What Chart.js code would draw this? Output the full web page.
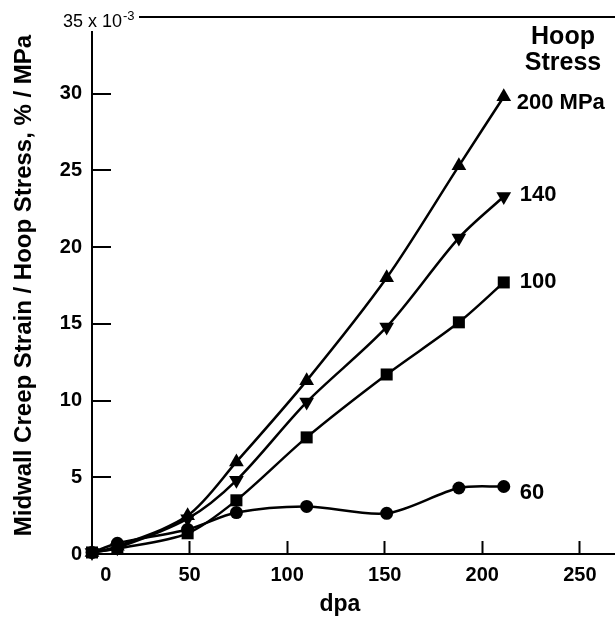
<!DOCTYPE html>
<html><head><meta charset="utf-8">
<script src="https://cdn.jsdelivr.net/npm/chart.js@4/dist/chart.umd.min.js"></script>
<style>html,body{margin:0;padding:0;background:#fff;}#wrap{width:615px;height:618px;}</style>
</head><body><div id="wrap"><canvas id="c" width="615" height="618"></canvas></div>
<script>
// ---- data ----
const dpa = [0, 13, 49, 74, 110, 151, 188, 211];
const strain200 = [0.1, 0.5, 2.5, 6.0, 11.3, 18.0, 25.3, 29.8];
const strain140 = [0.1, 0.4, 2.3, 4.8, 9.9, 14.8, 20.6, 23.3];
const strain100 = [0.1, 0.35, 1.35, 3.5, 7.6, 11.7, 15.1, 17.7];
const strain60  = [0.1, 0.7, 1.6, 2.7, 3.1, 2.65, 4.3, 4.4];
const seriesLabels = ['200 MPa', '140', '100', '60'];
const xTickValues = [0, 50, 100, 150, 200, 250];
const yTickValues = [0, 5, 10, 15, 20, 25, 30, 35];
const legendTitle = ['Hoop', 'Stress'];
const xTitle = 'dpa';
const yTitle = 'Midwall Creep Strain / Hoop Stress, % / MPa';
const yUnitMain = '35 x 10';
const yUnitExp = '-3';

const FONT = '"Liberation Sans", Arial, Helvetica, sans-serif';
const toXY = (ys) => dpa.map((x, i) => ({x: x, y: ys[i]}));

const styles = [
  {pointStyle: 'triangle', rotation: 0, radius: 8.5, dx: 13, dy: 6},
  {pointStyle: 'triangle', rotation: 180, radius: 8.5, dx: 16, dy: -2},
  {pointStyle: 'rect', rotation: 0, radius: 8.5, dx: 16, dy: 0},
  {pointStyle: 'circle', rotation: 0, radius: 6.5, dx: 16, dy: 6}
];
const allSeries = [strain200, strain140, strain100, strain60];

const datasets = allSeries.map((s, i) => ({
  label: seriesLabels[i],
  data: toXY(s),
  borderColor: '#000',
  backgroundColor: '#000',
  borderWidth: 2.5,
  tension: 0.3,
  pointStyle: styles[i].pointStyle,
  pointRotation: styles[i].rotation,
  pointRadius: styles[i].radius,
  pointBorderWidth: 0,
  pointBackgroundColor: '#000',
  clip: false
}));

const annot = {
  id: 'annot',
  afterDraw(chart) {
    const ctx = chart.ctx;
    const xs = chart.scales.x, ys = chart.scales.y;
    ctx.save();
    const topPx = ys.getPixelForValue(35);
    // unit label at top of y axis
    ctx.fillStyle = '#fff';
    ctx.fillRect(55, topPx - 14, 84, 28);
    ctx.fillStyle = '#000';
    ctx.textAlign = 'left';
    ctx.textBaseline = 'alphabetic';
    ctx.font = '18px ' + FONT;
    const base = topPx + 10;
    ctx.fillText(yUnitMain, 63, base);
    const w = ctx.measureText(yUnitMain).width;
    ctx.font = '13px ' + FONT;
    ctx.fillText(yUnitExp, 63 + w + 1, base - 7);
    // legend title
    ctx.font = 'bold 25px ' + FONT;
    ctx.textAlign = 'center';
    ctx.textBaseline = 'middle';
    ctx.fillText(legendTitle[0], 563, 37);
    ctx.fillText(legendTitle[1], 563, 63);
    // series labels next to last points
    ctx.font = 'bold 22px ' + FONT;
    ctx.textAlign = 'left';
    allSeries.forEach((s, i) => {
      const n = s.length - 1;
      const px = xs.getPixelForValue(dpa[n]);
      const py = ys.getPixelForValue(s[n]);
      ctx.fillText(seriesLabels[i], px + styles[i].dx, py + styles[i].dy);
    });
    // x axis title
    ctx.font = 'bold 23px ' + FONT;
    ctx.textAlign = 'center';
    ctx.fillText(xTitle, xs.getPixelForValue(127), 605);
    ctx.restore();
  }
};

new Chart(document.getElementById('c'), {
  type: 'line',
  data: {datasets: datasets},
  options: {
    responsive: false,
    animation: false,
    events: [],
    layout: {autoPadding: false, padding: {top: 17, right: 0, left: 0, bottom: 0}},
    plugins: {legend: {display: false}, tooltip: {enabled: false}},
    scales: {
      x: {
        type: 'linear',
        min: 0, max: 268,
        afterFit: (s) => { s.height = 64; s.paddingLeft = 0; s.paddingRight = 0; s.paddingTop = 0; s.paddingBottom = 0; },
        afterBuildTicks: (s) => { s.ticks = xTickValues.map(v => ({value: v})); },
        ticks: {
          padding: 22,
          color: '#000',
          font: {family: FONT, size: 20, weight: 'bold'},
          maxRotation: 0,
          autoSkip: false,
          callback: (v) => v === 0 ? '     0' : String(v)
        },
        grid: {
          drawOnChartArea: false,
          drawTicks: true,
          tickLength: -13,
          tickWidth: 2,
          tickColor: (c) => (c.tick && c.tick.value === 0) ? 'rgba(0,0,0,0)' : '#000'
        },
        border: {display: true, color: '#000', width: 2}
      },
      y: {
        type: 'linear',
        min: 0, max: 35,
        afterFit: (s) => { s.width = 92; s.paddingLeft = 0; s.paddingRight = 0; s.paddingTop = 0; s.paddingBottom = 0; },
        afterBuildTicks: (s) => { s.ticks = yTickValues.map(v => ({value: v})); },
        ticks: {
          padding: 29,
          color: '#000',
          font: {family: FONT, size: 20, weight: 'bold'},
          callback: (v) => v === 35 ? '' : String(v)
        },
        grid: {
          drawOnChartArea: true,
          drawTicks: true,
          tickLength: -19,
          lineWidth: 2,
          tickWidth: 2,
          color: (c) => (c.tick && c.tick.value === 35) ? '#000' : 'rgba(0,0,0,0)',
          tickColor: (c) => (c.tick && (c.tick.value === 0 || c.tick.value === 35)) ? 'rgba(0,0,0,0)' : '#000'
        },
        border: {display: true, color: '#000', width: 2},
        title: {
          display: true,
          text: yTitle,
          color: '#000',
          font: {family: FONT, size: 24, weight: 'bold', lineHeight: 1.2},
          padding: {top: 10, bottom: 0}
        }
      }
    }
  },
  plugins: [annot]
});
</script>
</body></html>
